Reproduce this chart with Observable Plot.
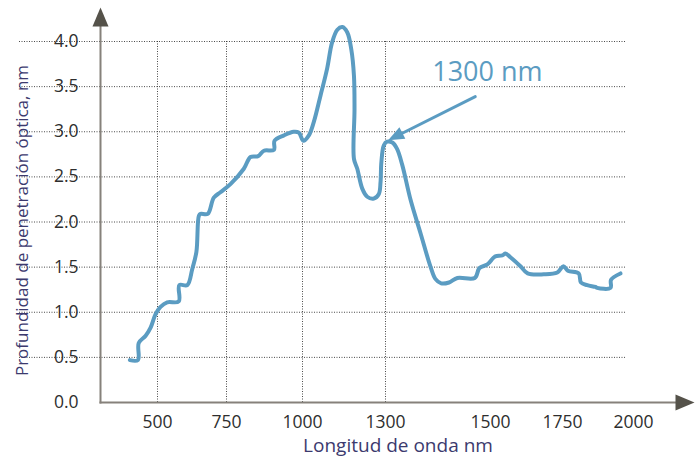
<!DOCTYPE html>
<html><head><meta charset="utf-8">
<script src="https://cdn.jsdelivr.net/npm/d3@7"></script>
<script src="https://cdn.jsdelivr.net/npm/@observablehq/plot@0.6"></script>
<style>
html,body{margin:0;padding:0;background:#fff;}
#chart svg{display:block;}
</style></head><body><div id="chart"></div>
<script>
// ---- data ----
const wavelength = [400,429,432,457,475,493,511,535,577,579,608,626,641,650,656,682,704,728,763,807,829,854,873,906,908,939,971,988,1003,1023,1041,1065,1089,1107,1126,1144,1162,1176,1186,1188,1186,1198,1216,1234,1258,1276,1282,1285,1294,1303,1313,1322,1332,1348,1367,1386,1395,1406,1421,1437,1470,1479,1494,1509,1517,1541,1552,1569,1604,1629,1685,1732,1753,1769,1807,1815,1837,1866,1872,1919,1921,1954];
const depth = [0.47,0.47,0.66,0.74,0.83,0.98,1.06,1.11,1.12,1.30,1.30,1.48,1.67,2.07,2.09,2.09,2.27,2.33,2.42,2.59,2.72,2.73,2.79,2.80,2.90,2.96,3.00,2.99,2.90,2.96,3.11,3.40,3.70,3.99,4.13,4.16,4.10,3.92,3.62,3.25,2.70,2.59,2.37,2.28,2.26,2.31,2.44,2.66,2.85,2.89,2.88,2.81,2.63,2.24,1.87,1.50,1.37,1.32,1.33,1.38,1.38,1.49,1.53,1.60,1.62,1.63,1.65,1.61,1.51,1.43,1.42,1.44,1.51,1.46,1.43,1.33,1.30,1.28,1.27,1.27,1.36,1.43];
const xTicks = [500, 750, 1000, 1300, 1500, 1750, 2000];
const yTicks = [0, 0.5, 1.0, 1.5, 2.0, 2.5, 3.0, 3.5, 4.0];
const xGrid = [500, 750, 1000, 1300];
const yGrid = [0.5, 1.0, 1.5, 2.0, 2.5, 3.0, 3.5, 4.0];
const gridRight = 1975;
const annotationLabel = ["1300 nm"];
const annotationAt = [1494, 3.66];
const arrowTail = [1471, 3.39];
const arrowTip = [1305, 2.905];
const xLabel = ["Longitud de onda nm"];
const yLabel = ["Profundidad de penetración óptica, nm"];

// ---- layout / style ----
const xRangePx = [157, 226, 302, 385, 490, 562, 633];
const yRangePx = [402, 41];
const blue = "#5b9cc2";
const navy = "#3c3a6e";
const FONT = "'Open Sans', 'Noto Sans', sans-serif";

const points = wavelength.map((w, i) => ({w, d: depth[i]}));

const headAxis = {draw(ctx) { ctx.moveTo(0, 0); ctx.lineTo(-8, 19); ctx.lineTo(8, 19); ctx.closePath(); }};
const headAnno = {draw(ctx) { ctx.moveTo(0, 0); ctx.lineTo(-6.5, 16); ctx.lineTo(6.5, 16); ctx.closePath(); }};

const chart = Plot.plot({
  width: 697,
  height: 464,
  marginLeft: 100,
  marginRight: 22,
  marginTop: 26,
  marginBottom: 62,
  style: {fontFamily: FONT, background: "#fff"},
  x: {type: "linear", domain: xTicks, range: xRangePx},
  y: {type: "linear", domain: [0, 4], range: yRangePx},
  marks: [
    Plot.ruleY(yGrid, {y: d => d, x2: gridRight, stroke: "#2a2a2a", strokeWidth: 1, strokeDasharray: "1 1.5", strokeOpacity: 0.85}),
    Plot.ruleX(xGrid, {x: d => d, y2: 4, stroke: "#2a2a2a", strokeWidth: 1, strokeDasharray: "1 1.5", strokeOpacity: 0.85}),
    Plot.frame({anchor: "left", stroke: "#86817b", strokeWidth: 2}),
    Plot.frame({anchor: "bottom", stroke: "#86817b", strokeWidth: 2}),
    Plot.dot([0], {frameAnchor: "top-left", symbol: headAxis, dy: -19, fill: "#55524a", stroke: "none"}),
    Plot.dot([0], {frameAnchor: "bottom-right", symbol: headAxis, rotate: 90, dx: 19, fill: "#55524a", stroke: "none"}),
    Plot.axisX(xTicks, {tickSize: 0, tickPadding: 13, fontSize: 17.5, color: "#2e2e2e", tickFormat: d => String(d), label: null}),
    Plot.axisY(yTicks, {tickSize: 0, tickPadding: 22, fontSize: 17.5, color: "#2e2e2e", tickFormat: d3.format(".1f"), label: null}),
    Plot.line(points, {x: "w", y: "d", stroke: blue, strokeWidth: 4, curve: "catmull-rom", strokeLinejoin: "round", strokeLinecap: "round"}),
    Plot.arrow([0], {x1: () => arrowTail[0], y1: () => arrowTail[1], x2: () => arrowTip[0], y2: () => arrowTip[1], stroke: blue, strokeWidth: 3, headLength: 0, insetEnd: 8}),
    Plot.dot([0], {x: () => arrowTip[0], y: () => arrowTip[1], symbol: headAnno, rotate: 243, fill: blue, stroke: "none"}),
    Plot.text(annotationLabel, {x: () => annotationAt[0], y: () => annotationAt[1], text: d => d, fontSize: 27, fill: blue}),
    Plot.text(yLabel, {frameAnchor: "left", textAnchor: "middle", text: d => d, rotate: -90, dx: -78, dy: 6, fontSize: 17, fill: navy}),
    Plot.text(xLabel, {frameAnchor: "bottom", textAnchor: "middle", text: d => d, dx: 10, dy: 49, fontSize: 19, fill: navy})
  ]
});
document.getElementById("chart").appendChild(chart);
</script>
</body></html>
